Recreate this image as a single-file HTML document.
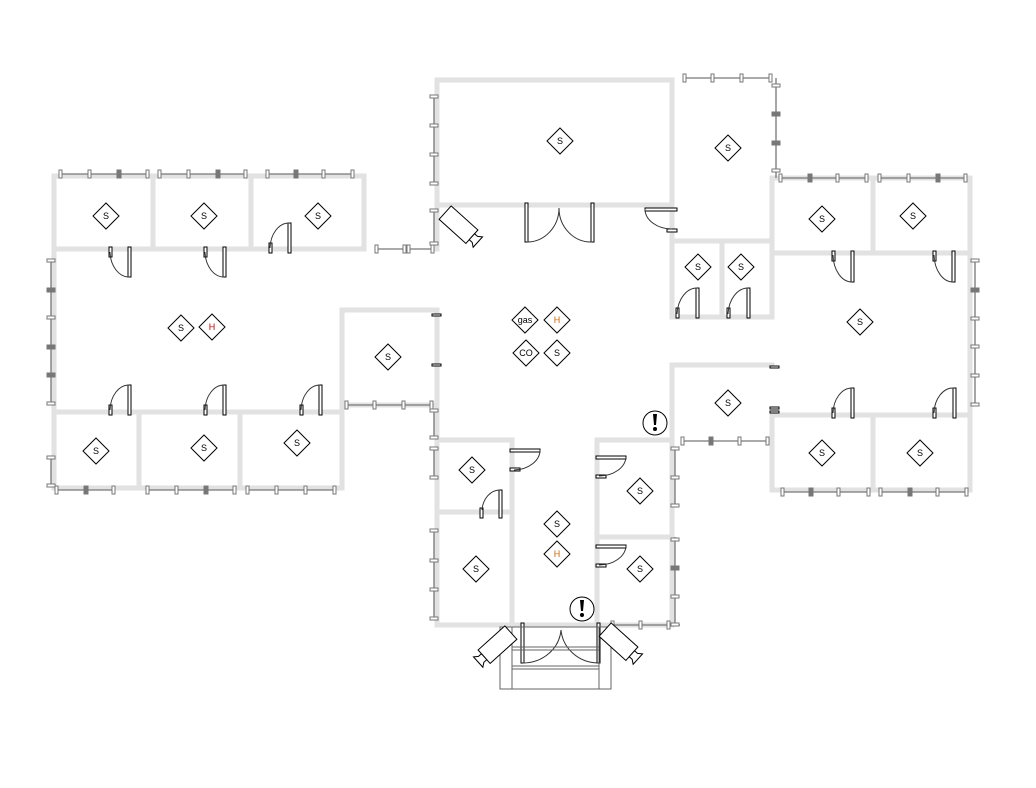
<!DOCTYPE html>
<html><head><meta charset="utf-8"><style>
html,body{margin:0;padding:0;background:#fff;}
svg{display:block;}
text{font-family:"Liberation Sans",sans-serif;font-size:9px;text-anchor:middle;}
</style></head><body>
<svg width="1036" height="788" viewBox="0 0 1036 788" xmlns="http://www.w3.org/2000/svg">
<defs>
<g id="dm"><path d="M0,-13 L13,0 L0,13 L-13,0 Z" fill="#fff" stroke="#000" stroke-width="1"/></g>
<g id="cam" fill="#fff" stroke="#000" stroke-width="1">
<rect x="-20" y="-9" width="36" height="18"/>
<path d="M16,-4 L20,-4 L24,-7 L24,7 L20,4 L16,4 Z"/>
</g>
</defs>

<!-- WALLS -->
<g stroke="#e2e2e2" stroke-width="5" fill="none" stroke-linecap="square">
<!-- left wing -->
<path d="M54,176 H364 V249 H54"/>
<path d="M54,176 V488 H342 V310 H437"/>
<path d="M153,176 V249 M251,176 V249"/>
<path d="M54,412 H342 M139,412 V488 M240,412 V488"/>
<path d="M342,405 H437"/>
<!-- central top -->
<path d="M437,80 H672 V317 M437,80 V249 M437,205 H672"/>
<path d="M672,241 H772 M722,241 V317 M672,317 H772 M772,178 V317"/>
<!-- right wing -->
<path d="M772,178 H970 V490 H772 V415 H970 M873,178 V253 M772,253 H970 M873,415 V490"/>
<path d="M672,365 H772 M672,365 V440 M772,415 V440"/>
<!-- center lower -->
<path d="M437,440 H512 V625 H437 V405 M437,512 H512"/>
<path d="M597,440 H672 V625 H597 Z M597,537 H672"/>
<path d="M512,625 H597"/>
<path d="M437,310 V405"/>
</g>

<!-- WINDOWS -->
<g stroke="#777" stroke-width="1.3" fill="#fff">
<!-- horizontal windows -->
<path d="M60,174 H147 M159,174 H245 M267,174 H352 M376,249 H432 M684,78 H770 M780,178 H866 M879,178 H965 M56,490 H113 M147,490 H234 M247,490 H334 M346,405 H432 M782,492 H868 M880,492 H966 M682,441 H767 M612,625 H680"/>
<path d="M434,96 V183 M434,210 V245 M776,78 V178 M51,260 V403 M51,457 V485 M975,260 V404 M434,410 V437 M434,448 V477 M434,530 V618 M675,448 V505 M675,537 V625"/>
</g>
<g fill="#fff" stroke="#777" stroke-width="1">
<!-- vertical ticks on horizontal windows -->
<g id="ht">
<rect x="59" y="170" width="3" height="8"/><rect x="88" y="170" width="3" height="8"/><rect x="117" y="170" width="4" height="8" fill="#777"/><rect x="146" y="170" width="3" height="8"/>
<rect x="158" y="170" width="3" height="8"/><rect x="187" y="170" width="3" height="8"/><rect x="216" y="170" width="4" height="8" fill="#777"/><rect x="244" y="170" width="3" height="8"/>
<rect x="266" y="170" width="3" height="8"/><rect x="294" y="170" width="4" height="8" fill="#777"/><rect x="322" y="170" width="3" height="8"/><rect x="351" y="170" width="3" height="8"/>
<rect x="375" y="245" width="3" height="8"/><rect x="403" y="245" width="3" height="8"/><rect x="407" y="245" width="3" height="8"/><rect x="431" y="245" width="3" height="8"/>
<rect x="683" y="74" width="3" height="8"/><rect x="711" y="74" width="3" height="8"/><rect x="740" y="74" width="3" height="8"/><rect x="769" y="74" width="3" height="8"/>
<rect x="779" y="174" width="3" height="8"/><rect x="808" y="174" width="4" height="8" fill="#777"/><rect x="836" y="174" width="3" height="8"/><rect x="865" y="174" width="3" height="8"/>
<rect x="878" y="174" width="3" height="8"/><rect x="907" y="174" width="3" height="8"/><rect x="936" y="174" width="4" height="8" fill="#777"/><rect x="964" y="174" width="3" height="8"/>
<rect x="55" y="486" width="3" height="8"/><rect x="84" y="486" width="4" height="8" fill="#777"/><rect x="112" y="486" width="3" height="8"/>
<rect x="146" y="486" width="3" height="8"/><rect x="175" y="486" width="3" height="8"/><rect x="204" y="486" width="4" height="8" fill="#777"/><rect x="233" y="486" width="3" height="8"/>
<rect x="246" y="486" width="3" height="8"/><rect x="275" y="486" width="3" height="8"/><rect x="304" y="486" width="3" height="8"/><rect x="333" y="486" width="3" height="8"/>
<rect x="345" y="401" width="3" height="8"/><rect x="373" y="401" width="3" height="8"/><rect x="402" y="401" width="3" height="8"/><rect x="430" y="401" width="3" height="8"/>
<rect x="781" y="488" width="3" height="8"/><rect x="809" y="488" width="4" height="8" fill="#777"/><rect x="837" y="488" width="3" height="8"/><rect x="867" y="488" width="3" height="8"/>
<rect x="879" y="488" width="3" height="8"/><rect x="908" y="488" width="4" height="8" fill="#777"/><rect x="936" y="488" width="3" height="8"/><rect x="965" y="488" width="3" height="8"/>
<rect x="681" y="437" width="3" height="8"/><rect x="709" y="437" width="4" height="8" fill="#777"/><rect x="738" y="437" width="3" height="8"/><rect x="766" y="437" width="3" height="8"/>
<rect x="611" y="621" width="3" height="8"/><rect x="639" y="621" width="3" height="8"/><rect x="667" y="621" width="3" height="8"/>
</g>
<!-- horizontal ticks on vertical windows -->
<rect x="430" y="95" width="8" height="3"/><rect x="430" y="124" width="8" height="3"/><rect x="430" y="153" width="8" height="3"/><rect x="430" y="182" width="8" height="3"/>
<rect x="430" y="209" width="8" height="3"/><rect x="430" y="242" width="8" height="3"/>
<rect x="772" y="84" width="8" height="3"/><rect x="772" y="112" width="8" height="4" fill="#777"/><rect x="772" y="141" width="8" height="4" fill="#777"/><rect x="772" y="169" width="8" height="3"/>
<rect x="47" y="259" width="8" height="3"/><rect x="47" y="288" width="8" height="4" fill="#777"/><rect x="47" y="316" width="8" height="3"/><rect x="47" y="345" width="8" height="4" fill="#777"/><rect x="47" y="373" width="8" height="4" fill="#777"/><rect x="47" y="402" width="8" height="3"/>
<rect x="47" y="456" width="8" height="3"/><rect x="47" y="484" width="8" height="3"/>
<rect x="971" y="259" width="8" height="3"/><rect x="971" y="288" width="8" height="4" fill="#777"/><rect x="971" y="317" width="8" height="3"/><rect x="971" y="345" width="8" height="3"/><rect x="971" y="374" width="8" height="3"/><rect x="971" y="403" width="8" height="3"/>
<rect x="430" y="409" width="8" height="3"/><rect x="430" y="436" width="8" height="3"/>
<rect x="430" y="447" width="8" height="3"/><rect x="430" y="476" width="8" height="3"/>
<rect x="430" y="529" width="8" height="3"/><rect x="430" y="559" width="8" height="3"/><rect x="430" y="588" width="8" height="3"/><rect x="430" y="617" width="8" height="3"/>
<rect x="671" y="447" width="8" height="3"/><rect x="671" y="476" width="8" height="3"/><rect x="671" y="504" width="8" height="3"/>
<rect x="671" y="538" width="8" height="3"/><rect x="671" y="566" width="8" height="4" fill="#777"/><rect x="671" y="595" width="8" height="3"/><rect x="671" y="623" width="8" height="3"/>
</g>

<!-- DOORS -->
<g fill="#fff" stroke="#000" stroke-width="1">
<!-- jamb/leaf rects -->
<g>
<!-- left top rooms (down) -->
<rect x="109" y="247" width="3" height="10"/><rect x="128" y="247" width="3" height="30"/>
<rect x="204" y="247" width="3" height="10"/><rect x="223" y="247" width="3" height="30"/>
<rect x="269" y="243" width="3" height="10"/><rect x="288" y="223" width="3" height="30"/>
<!-- left lower rooms (up) -->
<rect x="109" y="405" width="3" height="10"/><rect x="128" y="385" width="3" height="30"/>
<rect x="204" y="405" width="3" height="10"/><rect x="223" y="385" width="3" height="30"/>
<rect x="300" y="405" width="3" height="10"/><rect x="319" y="385" width="3" height="30"/>
<!-- right wing top rooms -->
<rect x="832" y="251" width="3" height="10"/><rect x="851" y="251" width="3" height="31"/>
<rect x="933" y="251" width="3" height="10"/><rect x="952" y="251" width="3" height="31"/>
<!-- right wing lower -->
<rect x="832" y="408" width="3" height="10"/><rect x="851" y="388" width="3" height="30"/>
<rect x="933" y="408" width="3" height="10"/><rect x="953" y="388" width="3" height="30"/>
<!-- small rooms -->
<rect x="676" y="308" width="3" height="10"/><rect x="696" y="288" width="3" height="30"/>
<rect x="727" y="308" width="3" height="10"/><rect x="747" y="288" width="3" height="30"/>
<!-- top double door -->
<rect x="525" y="203" width="3" height="39"/><rect x="591" y="203" width="3" height="39"/>
<!-- door near 672,210 -->
<rect x="645" y="208" width="32" height="3"/><rect x="667" y="229" width="10" height="3"/>
<!-- lower left block -->
<rect x="510" y="449" width="30" height="3"/><rect x="510" y="468" width="10" height="3"/>
<rect x="480" y="508" width="3" height="10"/><rect x="499" y="490" width="3" height="28"/>
<!-- right block -->
<rect x="596" y="456" width="30" height="3"/><rect x="596" y="475" width="10" height="3"/>
<rect x="596" y="545" width="30" height="3"/><rect x="596" y="564" width="10" height="3"/>
<!-- bottom double door -->
<rect x="521" y="623" width="3" height="40"/><rect x="597" y="623" width="3" height="40"/>
<!-- door marks -->
<rect x="432" y="314" width="9" height="2"/><rect x="432" y="364" width="9" height="2"/>
<rect x="770" y="366" width="9" height="2"/><rect x="770" y="407" width="9" height="2"/><rect x="770" y="411" width="9" height="2"/>
</g>
<g fill="none" stroke="#333">
<path d="M129,277 A19,26 0 0 1 110,252"/>
<path d="M224,277 A19,26 0 0 1 205,252"/>
<path d="M289,223 A19,26 0 0 0 270,248"/>
<path d="M129,385 A19,26 0 0 0 110,410"/>
<path d="M224,385 A19,26 0 0 0 205,410"/>
<path d="M320,385 A19,26 0 0 0 301,410"/>
<path d="M852,282 A19,28 0 0 1 833,255"/>
<path d="M953,282 A19,28 0 0 1 934,255"/>
<path d="M852,388 A19,26 0 0 0 833,413"/>
<path d="M954,388 A19,26 0 0 0 934,413"/>
<path d="M697,288 A20,28 0 0 0 677,314"/>
<path d="M748,288 A20,28 0 0 0 728,314"/>
<path d="M527,242 A32,34 0 0 0 559,208"/>
<path d="M592,242 A32,34 0 0 1 559,208"/>
<path d="M645,209 A27,20 0 0 0 672,229"/>
<path d="M540,450 A27,20 0 0 1 514,470"/>
<path d="M500,490 A18,22 0 0 0 482,510"/>
<path d="M626,457 A27,20 0 0 1 599,476"/>
<path d="M626,546 A27,20 0 0 1 599,565"/>
<path d="M523,663 A38,36 0 0 0 561,630"/>
<path d="M598,663 A38,36 0 0 1 561,630"/>
</g>
</g>

<!-- PORCH -->
<g fill="none" stroke="#666" stroke-width="1">
<rect x="500" y="627" width="111" height="62"/>
<path d="M512,627 V689 M599,627 V689 M512,647 H599 M512,650 H599 M512,666 H599 M512,669 H599"/>
</g>

<!-- CAMERAS -->
<use href="#cam" transform="translate(460,226) rotate(42)"/>
<use href="#cam" transform="translate(496,646) rotate(138)"/>
<use href="#cam" transform="translate(620,643) rotate(42)"/>

<!-- ALERTS -->
<g>
<circle cx="655" cy="423" r="12" fill="#fff" stroke="#000"/>
<path d="M653,414 h4 l-1,11 h-2 Z" fill="#000"/><circle cx="655" cy="429" r="2" fill="#000"/>
<circle cx="582" cy="609" r="12" fill="#fff" stroke="#000"/>
<path d="M580,600 h4 l-1,11 h-2 Z" fill="#000"/><circle cx="582" cy="615" r="2" fill="#000"/>
</g>

<!-- SENSORS -->
<g>
<use href="#dm" x="106" y="216"/><text x="106" y="219">S</text>
<use href="#dm" x="204" y="216"/><text x="204" y="219">S</text>
<use href="#dm" x="318" y="216"/><text x="318" y="219">S</text>
<use href="#dm" x="181" y="328"/><text x="181" y="331">S</text>
<use href="#dm" x="212" y="327"/><text x="212" y="330" fill="#c00">H</text>
<use href="#dm" x="388" y="357"/><text x="388" y="360">S</text>
<use href="#dm" x="96" y="451"/><text x="96" y="454">S</text>
<use href="#dm" x="204" y="448"/><text x="204" y="451">S</text>
<use href="#dm" x="297" y="443"/><text x="297" y="446">S</text>
<use href="#dm" x="560" y="141"/><text x="560" y="144">S</text>
<use href="#dm" x="728" y="148"/><text x="728" y="151">S</text>
<use href="#dm" x="698" y="267"/><text x="698" y="270">S</text>
<use href="#dm" x="741" y="267"/><text x="741" y="270">S</text>
<use href="#dm" x="525" y="320"/><text x="525" y="323">gas</text>
<use href="#dm" x="557" y="320"/><text x="557" y="323" fill="#c60">H</text>
<use href="#dm" x="526" y="353"/><text x="526" y="356">CO</text>
<use href="#dm" x="557" y="353"/><text x="557" y="356">S</text>
<use href="#dm" x="822" y="219"/><text x="822" y="222">S</text>
<use href="#dm" x="913" y="216"/><text x="913" y="219">S</text>
<use href="#dm" x="860" y="322"/><text x="860" y="325">S</text>
<use href="#dm" x="728" y="403"/><text x="728" y="406">S</text>
<use href="#dm" x="822" y="453"/><text x="822" y="456">S</text>
<use href="#dm" x="920" y="453"/><text x="920" y="456">S</text>
<use href="#dm" x="472" y="470"/><text x="472" y="473">S</text>
<use href="#dm" x="476" y="569"/><text x="476" y="572">S</text>
<use href="#dm" x="557" y="524"/><text x="557" y="527">S</text>
<use href="#dm" x="557" y="554"/><text x="557" y="557" fill="#c60">H</text>
<use href="#dm" x="640" y="491"/><text x="640" y="494">S</text>
<use href="#dm" x="640" y="569"/><text x="640" y="572">S</text>
</g>
</svg>
</body></html>
